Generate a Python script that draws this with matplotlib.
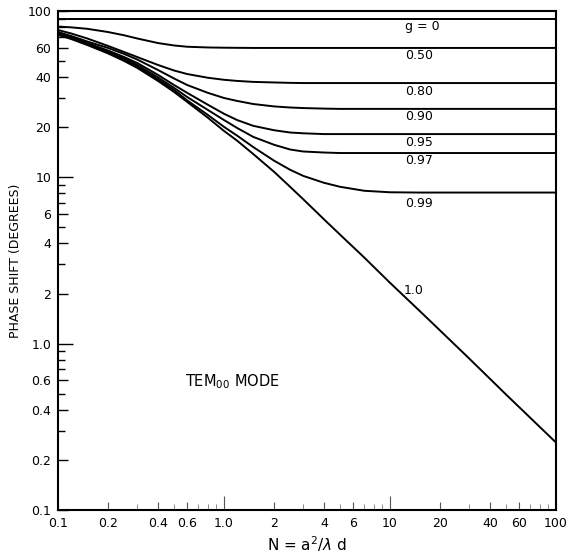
import matplotlib.pyplot as plt
from matplotlib.ticker import FixedLocator, FixedFormatter, NullFormatter

# Fresnel number N = a^2 / (lambda d)
fresnel_n = [0.1, 0.12, 0.15, 0.2, 0.25, 0.3, 0.4, 0.5, 0.6, 0.8, 1.0, 1.2, 1.5,
             2.0, 2.5, 3.0, 4.0, 5.0, 7.0, 10, 15, 20, 30, 50, 100]

# phase shift (degrees) of the TEM00 mode, one list per g value
phase_g000 = [90] * 25
phase_g050 = [80.7, 79.8, 78.2, 74.8, 71.5, 68.4, 64.2, 62.1, 61.0, 60.4, 60.2, 60.1, 60.0,
              60.0, 60.0, 60.0, 60.0, 60.0, 60.0, 60.0, 60.0, 60.0, 60.0, 60.0, 60.0]
phase_g080 = [76.9, 73.3, 68.4, 61.7, 56.7, 52.9, 47.4, 43.9, 41.8, 39.7, 38.6, 38.0, 37.5,
              37.2, 37.0, 36.9, 36.9, 36.9, 36.9, 36.9, 36.9, 36.9, 36.9, 36.9, 36.9]
phase_g090 = [74.8, 70.8, 65.6, 60.0, 55.2, 51.1, 44.2, 39.3, 35.9, 32.2, 30.0, 28.8, 27.6,
              26.7, 26.3, 26.1, 25.9, 25.8, 25.8, 25.8, 25.8, 25.8, 25.8, 25.8, 25.8]
phase_g095 = [73.8, 69.8, 64.2, 57.9, 52.9, 48.7, 41.3, 35.9, 32.2, 27.3, 24.1, 22.1, 20.4,
              19.2, 18.6, 18.4, 18.2, 18.2, 18.2, 18.2, 18.2, 18.2, 18.2, 18.2, 18.2]
phase_g097 = [72.8, 68.8, 63.4, 57.1, 51.8, 47.4, 39.9, 34.5, 30.4, 25.4, 22.1, 19.8, 17.5,
              15.7, 14.7, 14.3, 14.1, 14.0, 14.0, 14.0, 14.0, 14.0, 14.0, 14.0, 14.0]
phase_g099 = [72.3, 68.4, 62.9, 56.3, 50.8, 46.4, 38.8, 33.5, 29.0, 23.7, 20.1, 17.8, 15.2,
              12.6, 11.1, 10.2, 9.27, 8.77, 8.30, 8.13, 8.1, 8.1, 8.1, 8.1, 8.1]
phase_g100 = [71.8, 67.9, 62.5, 55.6, 50.1, 45.5, 38.0, 32.6, 28.4, 22.8, 19.0, 16.6, 13.8,
              10.8, 8.77, 7.38, 5.59, 4.52, 3.29, 2.32, 1.58, 1.20, 0.813, 0.494, 0.254]

curves = [phase_g000, phase_g050, phase_g080, phase_g090,
          phase_g095, phase_g097, phase_g099, phase_g100]
curve_labels = ['g = 0', '0.50', '0.80', '0.90', '0.95', '0.97', '0.99', '1.0']
# where each curve label sits (N, degrees)
label_pos = [(12.3, 80.2), (12.3, 53.7), (12.3, 33.0), (12.3, 23.1),
             (12.3, 16.3), (12.3, 12.6), (12.3, 7.0), (12.0, 2.1)]

y_ticks = [0.1, 0.2, 0.4, 0.6, 1.0, 2, 4, 6, 10, 20, 40, 60, 100]
y_tick_labels = ['0.1', '0.2', '0.4', '0.6', '1.0', '2', '4', '6', '10', '20', '40', '60', '100']
x_ticks = [0.1, 0.2, 0.4, 0.6, 1.0, 2, 4, 6, 10, 20, 40, 60, 100]
x_tick_labels = ['0.1', '0.2', '0.4', '0.6', '1.0', '2', '4', '6', '10', '20', '40', '60', '100']
minor_ticks = [0.3, 0.5, 0.7, 0.8, 0.9, 3, 5, 7, 8, 9, 30, 50, 70, 80, 90]

fig = plt.figure(figsize=(5.75, 5.53), dpi=100)
ax = fig.add_axes([0.101, 0.078, 0.866, 0.902])

for phase in curves:
    ax.plot(fresnel_n, phase, color='black', lw=1.4, solid_joinstyle='round')

for text, (xn, yp) in zip(curve_labels, label_pos):
    ax.text(xn, yp, text, fontsize=9, ha='left', va='center')

ax.text(0.255, 0.257, r'TEM$_{00}$ MODE', transform=ax.transAxes,
        fontsize=10.5, ha='left', va='center')

ax.set_xscale('log')
ax.set_yscale('log')
ax.set_xlim(0.1, 100)
ax.set_ylim(0.1, 100)

ax.xaxis.set_major_locator(FixedLocator(x_ticks))
ax.xaxis.set_major_formatter(FixedFormatter(x_tick_labels))
ax.xaxis.set_minor_locator(FixedLocator(minor_ticks))
ax.xaxis.set_minor_formatter(NullFormatter())
ax.yaxis.set_major_locator(FixedLocator(y_ticks))
ax.yaxis.set_major_formatter(FixedFormatter(y_tick_labels))
ax.yaxis.set_minor_locator(FixedLocator(minor_ticks))
ax.yaxis.set_minor_formatter(NullFormatter())

ax.tick_params(which='both', direction='in', top=False, right=False,
               labelsize=9, pad=5)
ax.tick_params(axis='y', which='major', length=7, width=1.0)
ax.tick_params(axis='y', which='minor', length=5, width=1.0)
ax.tick_params(axis='x', which='major', length=6, width=0.8, color='#555555')
ax.tick_params(axis='x', which='minor', length=4, width=0.7, color='#888888')

# decade ticks drawn longer
for tick, val in zip(ax.yaxis.get_major_ticks(), y_ticks):
    if val in (1.0, 10):
        tick.tick1line.set_markersize(11)
for tick, val in zip(ax.xaxis.get_major_ticks(), x_ticks):
    if val in (1.0, 10):
        tick.tick1line.set_markersize(10)

for side in ax.spines.values():
    side.set_linewidth(1.5)

ax.set_ylabel('PHASE SHIFT (DEGREES)', fontsize=9, labelpad=4)
ax.set_xlabel(r'N = a$^2$/$\lambda$ d', fontsize=11, labelpad=3)

fig.savefig('out.png', dpi=100)
